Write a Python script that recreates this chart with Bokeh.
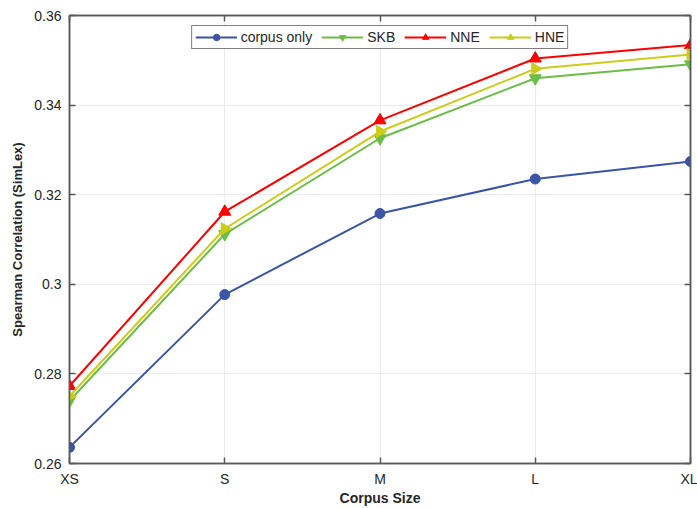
from bokeh.plotting import figure
from bokeh.models import (FixedTicker, LinearAxis, Range1d, Legend, LegendItem,
                          CustomJSTickFormatter)
from bokeh.embed import file_html
from bokeh.resources import INLINE

sizes = ["XS", "S", "M", "L", "XL"]
corpus_only = [0.2636, 0.2977, 0.3158, 0.3235, 0.3274]
skb = [0.2740, 0.3112, 0.3326, 0.3460, 0.3491]
nne = [0.2773, 0.3162, 0.3366, 0.3504, 0.3534]
hne = [0.2750, 0.3124, 0.3341, 0.3481, 0.3513]
y_ticks = [0.26, 0.28, 0.30, 0.32, 0.34, 0.36]

FONT = "Liberation Sans"
AX = "#5a5a5a"
TXT = "#262626"

idx = list(range(len(sizes)))

p = figure(width=697, height=508, output_backend="svg", toolbar_location=None,
           x_range=Range1d(0, len(sizes) - 1), y_range=Range1d(0.26, 0.36),
           min_border_left=69, min_border_right=7, min_border_top=15,
           min_border_bottom=40)
p.background_fill_color = "white"
p.border_fill_color = "white"
p.outline_line_color = AX
p.outline_line_width = 1.5

xt = FixedTicker(ticks=idx)
yt = FixedTicker(ticks=y_ticks)
p.xaxis.ticker = xt
p.yaxis.ticker = yt
p.xaxis.major_label_overrides = {i: s for i, s in zip(idx, sizes)}
p.yaxis.formatter = CustomJSTickFormatter(code="return String(Math.round(tick*100)/100);")

for ax in (p.xaxis[0], p.yaxis[0]):
    ax.axis_line_color = AX
    ax.axis_line_width = 1.5
    ax.major_tick_line_color = AX
    ax.major_tick_line_width = 1.5
    ax.major_tick_in = 6
    ax.major_tick_out = 0
    ax.minor_tick_line_color = None
    ax.major_label_text_font = FONT
    ax.major_label_text_font_size = "14px"
    ax.major_label_text_color = TXT
    ax.axis_label_text_font = FONT
    ax.axis_label_text_font_style = "bold"
    ax.axis_label_text_color = TXT

p.xaxis.axis_label = "Corpus Size"
p.xaxis.axis_label_text_font_size = "14px"
p.xaxis.major_label_standoff = 7
p.xaxis.axis_label_standoff = 0
p.yaxis.axis_label = "Spearman Correlation (SimLex)"
p.yaxis.axis_label_text_font_size = "13px"
p.yaxis.major_label_standoff = 8
p.yaxis.axis_label_standoff = 6

blank = CustomJSTickFormatter(code="return '';")
for loc, tk in (("above", xt), ("right", yt)):
    a = LinearAxis(ticker=tk, formatter=blank,
                   major_tick_in=6, major_tick_out=0, major_label_standoff=0,
                   axis_line_color=AX, axis_line_width=1.5,
                   major_tick_line_color=AX, major_tick_line_width=1.5,
                   minor_tick_line_color=None)
    p.add_layout(a, loc)

p.xgrid.ticker = xt
p.ygrid.ticker = yt
p.grid.grid_line_color = "#ececec"
p.grid.grid_line_width = 1

series = [
    ("corpus only", corpus_only, "#3a55a6", "circle", 10, 0),
    ("SKB", skb, "#6abd45", "inverted_triangle", 12, 0),
    ("NNE", nne, "#ff0000", "triangle", 12, 0),
    ("HNE", hne, "#cccc1a", "triangle", 12, -1.5708),
]
items = []
for name, ys, col, mk, sz, ang in series:
    ln = p.line(idx, ys, line_color=col, line_width=2)
    sc = p.scatter(idx, ys, marker=mk, size=sz, fill_color=col, line_color=col,
                   angle=ang)
    items.append(LegendItem(label=name, renderers=[ln, sc]))

legend = Legend(items=items, orientation="horizontal", location="top_center",
                border_line_color="#000000", border_line_width=1,
                label_text_font=FONT, label_text_font_size="14px",
                label_text_color=TXT, glyph_width=42, glyph_height=16,
                label_height=16, label_standoff=4, spacing=9, padding=3,
                margin=10, background_fill_color="white")
p.add_layout(legend, "center")

open("out.html", "w").write(file_html(p, INLINE))
